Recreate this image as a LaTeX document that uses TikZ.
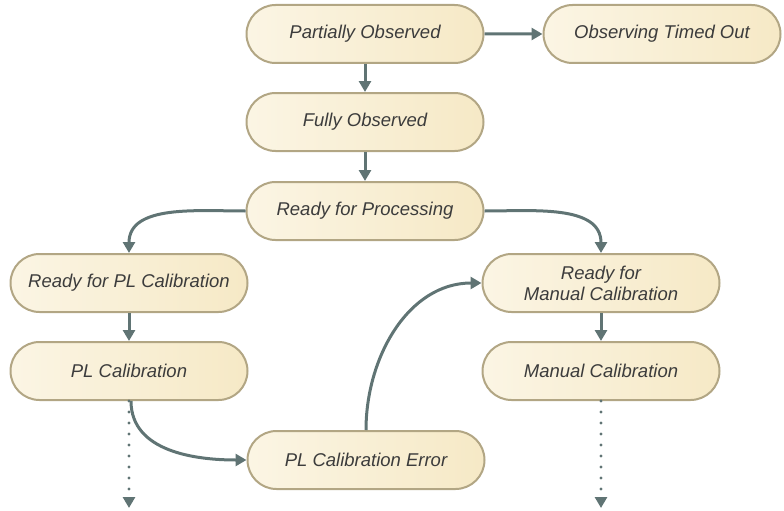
\documentclass[tikz,border=0pt]{standalone}
\usepackage{fontspec}
\setmainfont{Liberation Sans}
\usetikzlibrary{arrows.meta,shapes.misc}
\definecolor{stateborder}{RGB}{178,166,132}
\definecolor{statefillL}{RGB}{251,245,228}
\definecolor{statefillR}{RGB}{246,233,198}
\definecolor{statetext}{RGB}{60,60,60}
\definecolor{flowcol}{RGB}{96,116,116}
\begin{document}
\begin{tikzpicture}[x=1pt,y=-1pt,font=\itshape\fontsize{18.5}{21}\selectfont,line join=round,>={Triangle[width=12pt,length=11pt]},
	state/.style={rounded rectangle,draw=stateborder,line width=2pt,minimum width=237pt,minimum height=58pt,left color=statefillL,right color=statefillR,text=statetext,align=center,inner sep=0pt},
	flow/.style={->,draw=flowcol,line width=3pt},
	open/.style={->,draw=flowcol,line width=3.4pt,line cap=round,dash pattern=on 0pt off 11pt}]
	\useasboundingbox (0,0) rectangle (784,511);
	% states
	\node[state] (partial) at (365,34) {Partially Observed};
	\node[state] (timedout) at (662,34) {Observing Timed Out};
	\node[state] (full) at (365,122) {Fully Observed};
	\node[state] (ready) at (365,211) {Ready for Processing};
	\node[state] (readypl) at (129,283) {Ready for PL Calibration};
	\node[state] (pl) at (129,371) {PL Calibration};
	\node[state] (readyman) at (601,283) {Ready for\\Manual Calibration};
	\node[state] (man) at (601,371) {Manual Calibration};
	\node[state] (plerr) at (366,460) {PL Calibration Error};
	\coordinate (plnext) at (129,508);
	\coordinate (mannext) at (601,508);
	% transitions
	\draw[flow] (partial) -- (timedout);
	\draw[flow] (partial) -- (full);
	\draw[flow] (full) -- (ready);
	\draw[flow] (ready.west) to[out=180,in=90] (readypl.north);
	\draw[flow] (ready.east) to[out=0,in=90] (readyman.north);
	\draw[flow] (readypl) -- (pl);
	\draw[flow] (readyman) -- (man);
	\draw[flow] ([xshift=2pt]pl.south) to[out=270,in=180] (plerr.west);
	\draw[flow] (plerr.north) to[out=90,in=180] (readyman.west);
	\draw[open] (pl.south) -- (plnext);
	\draw[open] (man.south) -- (mannext);
\end{tikzpicture}
\end{document}
